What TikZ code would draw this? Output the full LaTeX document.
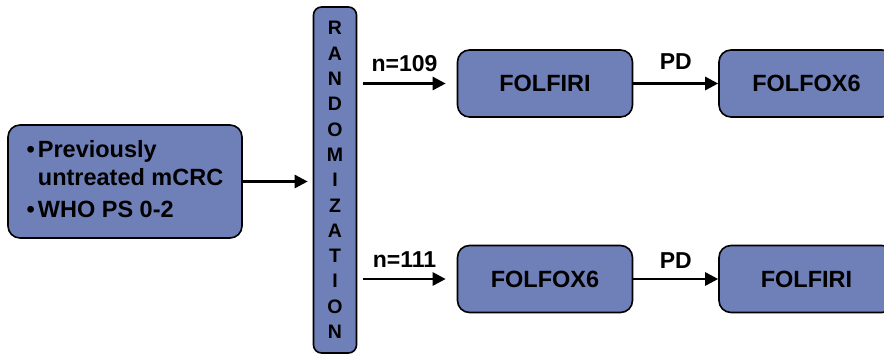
\documentclass[tikz,border=0pt]{standalone}
\usepackage{fontspec}
\setmainfont{Liberation Sans}
\usetikzlibrary{arrows.meta}
\definecolor{boxfill}{RGB}{111,127,183}
\tikzset{
  box/.style={draw=black, line width=1.6pt, fill=boxfill, rounded corners=12pt,
    font=\bfseries\fontsize{23.5}{28}\selectfont, inner sep=0pt},
  arr/.style={line width=2.6pt, -{Triangle[length=13pt,width=13pt]}},
  lbl/.style={font=\bfseries\fontsize{23}{28}\selectfont, inner sep=0pt}
}
\begin{document}
\begin{tikzpicture}[x=1pt,y=-1pt]
\useasboundingbox (0,0) rectangle (884,356);
\clip (0,0) rectangle (884,356);
\node[box, minimum width=234pt, minimum height=113pt] (pop) at (125,181.5)
  {\begin{tabular}{@{}l@{\hspace{3pt}}l@{}}•&Previously\\ &untreated mCRC\\[4pt]•&WHO PS 0-2\end{tabular}};
\node[box, rounded corners=8pt, minimum width=43pt, minimum height=346pt, align=center,
  font=\bfseries\fontsize{19.5}{25.3}\selectfont] (rand) at (335,180)
  {R\\A\\N\\D\\O\\M\\I\\Z\\A\\T\\I\\O\\N};
\node[box, minimum width=175pt, minimum height=67pt] (a1) at (545,83.5) {FOLFIRI};
\node[box, minimum width=175pt, minimum height=67pt] (a2) at (806.5,83.5) {FOLFOX6};
\node[box, minimum width=175pt, minimum height=67pt] (b1) at (545,279) {FOLFOX6};
\node[box, minimum width=175pt, minimum height=67pt] (b2) at (806.5,279) {FOLFIRI};
\draw[arr] (pop.east) -- ([xshift=-5pt]rand.west |- pop.east);
\draw[arr] ([xshift=6pt]rand.east |- a1.west) -- node[lbl, above=10pt] (n1) {n=109} ([xshift=-11pt]a1.west);
\draw[arr] ([xshift=6pt]rand.east |- b1.west) -- node[lbl, above=10pt] (n2) {n=111} ([xshift=-11pt]b1.west);
\draw[arr] (a1.east) -- node[lbl, above=13pt] (p1) {PD} (a2.west);
\draw[arr] (b1.east) -- node[lbl, above=9pt] (p2) {PD} (b2.west);
\end{tikzpicture}
\end{document}
